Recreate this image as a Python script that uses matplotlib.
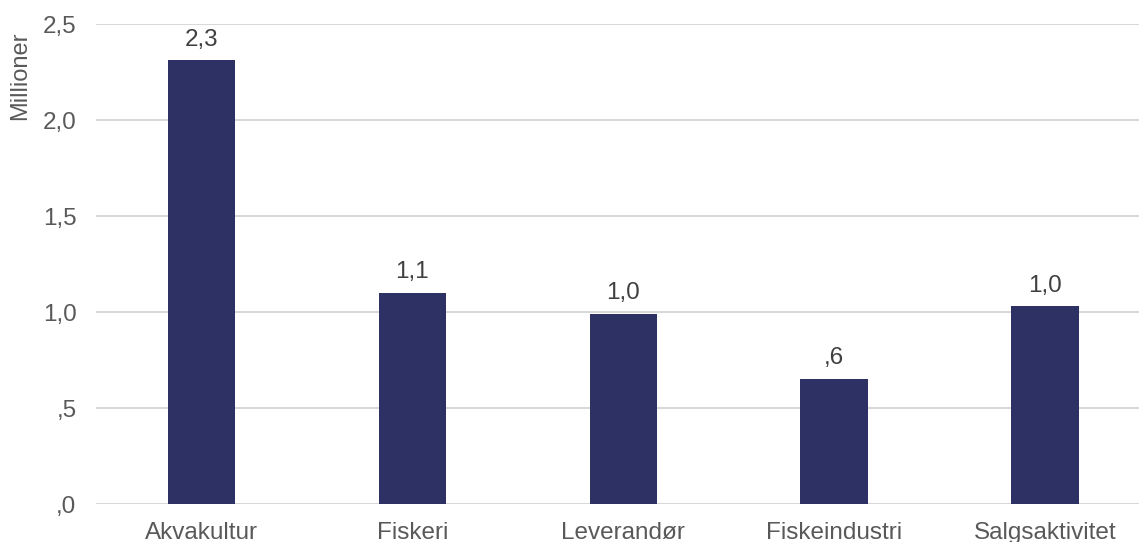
import matplotlib.pyplot as plt
from matplotlib.ticker import FuncFormatter

categories = ["Akvakultur", "Fiskeri", "Leverandør", "Fiskeindustri", "Salgsaktivitet"]
values = [2.31, 1.10, 0.99, 0.65, 1.03]
labels = ["2,3", "1,1", "1,0", ",6", "1,0"]
yticks = [0.0, 0.5, 1.0, 1.5, 2.0, 2.5]

plt.rcParams["font.family"] = ["Liberation Sans", "DejaVu Sans"]
grey = "#595959"


def fmt(v, pos):
    s = ("%.1f" % v).replace(".", ",")
    if s.startswith("0"):
        s = s[1:]
    return s


fig = plt.figure(figsize=(11.39, 5.42), dpi=100)
ax = fig.add_axes([96 / 1139, 38 / 542, 1 - 96 / 1139, 480 / 542])

x = range(len(categories))
bars = ax.bar(x, values, width=0.32, color="#2E3163", zorder=3)
for b, lab in zip(bars, labels):
    ax.annotate(lab, (b.get_x() + b.get_width() / 2, b.get_height()),
                xytext=(0, 7), textcoords="offset points",
                ha="center", va="bottom", fontsize=17.5, color="#404040")

ax.set_xlim(-0.5, 4.445)
ax.set_ylim(0, 2.5)
ax.set_yticks(yticks)
ax.yaxis.set_major_formatter(FuncFormatter(fmt))
ax.set_xticks(list(x))
ax.set_xticklabels(categories)
ax.tick_params(length=0, labelsize=17.5, labelcolor=grey)
ax.tick_params(axis="y", pad=14)
ax.tick_params(axis="x", pad=13)
ax.yaxis.grid(True, color="#D9D9D9", linewidth=1.5, zorder=0)
for s in ax.spines.values():
    s.set_visible(False)

fig.text(20 / 1139, 1 - 32 / 542, "Millioner", rotation=90, ha="center", va="top",
         fontsize=17, color=grey)

fig.savefig("out.png", dpi=100)
